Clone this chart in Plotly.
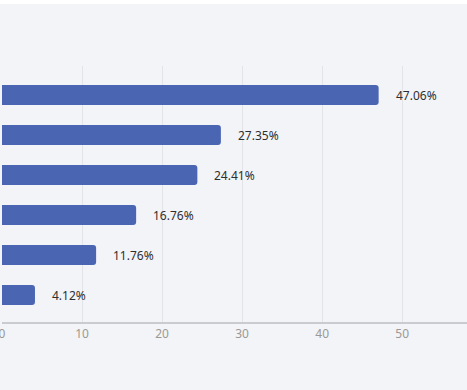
import plotly.graph_objects as go

# Data (bottom to top)
categories = ["F", "E", "D", "C", "B", "A"]
values = [4.12, 11.76, 16.76, 24.41, 27.35, 47.06]
tick_vals = [0, 10, 20, 30, 40, 50]
tick_text = ["0", "10", "20", "30", "40", "50"]

BG = "#f3f4f8"
BAR = "#4a66b3"

fig = go.Figure()
fig.add_trace(go.Bar(
    y=categories, x=values, orientation="h",
    marker=dict(color=BAR, line=dict(width=0)),
    width=0.5, hoverinfo="skip",
))

for c, v in zip(categories, values):
    fig.add_annotation(x=v, y=c, text=f"{v:.2f}%", showarrow=False,
                       xanchor="left", xshift=15,
                       font=dict(family="Noto Sans, Open Sans, sans-serif", size=12, color="#2e2e2e"))

fig.add_shape(type="rect", xref="paper", yref="paper",
              x0=-0.1, x1=1.1, y0=1 + 62 / 256, y1=1 + 70 / 256,
              fillcolor="#ffffff", line=dict(width=0), layer="above")

fig.update_layout(
    width=467, height=390,
    margin=dict(l=2, r=0, t=66, b=68),
    paper_bgcolor=BG, plot_bgcolor=BG,
    showlegend=False,
    barcornerradius=3,
    xaxis=dict(range=[0, 58.1], tickvals=tick_vals, ticktext=tick_text,
               showgrid=True, gridcolor="#e2e4ea", gridwidth=1,
               showline=True, linecolor="#c9cbd1", linewidth=2,
               zeroline=False, ticks="", ticklabeloverflow="allow",
               tickfont=dict(family="Noto Sans, Open Sans, sans-serif", size=12, color="#9c9893")),
    yaxis=dict(type="category", categoryorder="array", categoryarray=categories,
               range=[-0.675, 5.725], showticklabels=False, showgrid=False,
               zeroline=False, showline=False, ticks=""),
)

fig.write_html("out.html", config={"displayModeBar": False},
               post_script="document.body.style.margin='0';document.body.style.overflow='hidden';")
